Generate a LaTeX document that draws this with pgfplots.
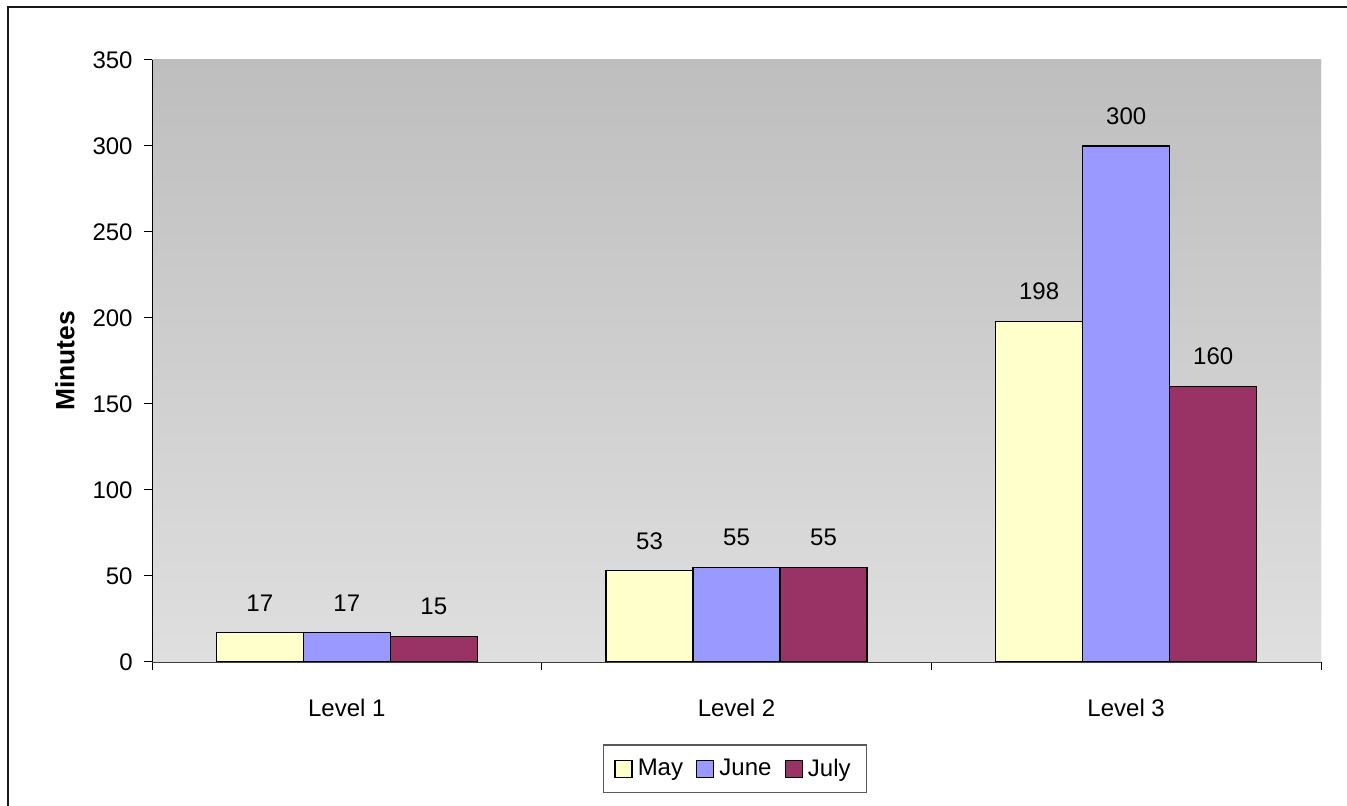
\documentclass[border=0pt]{standalone}
\usepackage{pgfplots}
\pgfplotsset{compat=1.18}
\usepackage{fontspec}
\setmainfont{Liberation Sans}

\definecolor{mayc}{HTML}{FFFFCC}
\definecolor{junec}{HTML}{9999FF}
\definecolor{julyc}{HTML}{993366}
\definecolor{bgtop}{RGB}{190,190,190}
\definecolor{bgbot}{RGB}{223,223,223}

\begin{document}
\begin{tikzpicture}[font=\fontsize{12}{14.4}\selectfont]
% page frame
\useasboundingbox (0,0) rectangle (673.5pt,403pt);
\draw[line width=1pt, black!90] (4pt,-5pt) -- (4pt,399.5pt) -- (690pt,399.5pt);

\begin{axis}[
  at={(76pt,72pt)}, anchor=south west,
  width=584.5pt, height=301pt, scale only axis,
  ybar=0pt, bar width=43.5pt,
  xmin=-0.5, xmax=2.5, ymin=0, ymax=350,
  axis x line*=bottom, axis y line*=left,
  x axis line style={black!75, -}, y axis line style={black, -},
  axis background/.style={top color=bgtop, bottom color=bgbot},
  xtick={-0.5,0.5,1.5,2.5},
  x tick label as interval,
  xticklabels={Level 1,Level 2,Level 3},
  ytick={0,50,...,350},
  tick align=outside, major tick length=4pt,
  tick style={black, line width=0.5pt},
  xticklabel style={anchor=center, inner sep=0pt, yshift=-19pt},
  yticklabel style={anchor=east, inner sep=0pt, xshift=-5.5pt},
  /pgf/number format/assume math mode=true,
  every axis y label/.style={at={(axis description cs:-0.0744,0.5)}, rotate=90, anchor=center, font=\fontsize{13.2}{15.8}\selectfont\bfseries},
  ylabel={Minutes},
  nodes near coords,
  every node near coord/.append style={anchor=south, inner sep=0pt, yshift=10.5pt},
  legend columns=3,
  legend style={at={(axis description cs:0.4987,-0.1777)}, anchor=center,
    draw=black!65, line width=0.7pt, fill=white, inner xsep=5.5pt, inner ysep=4.8pt,
    nodes={inner xsep=2.5pt},
    /tikz/every even column/.append style={column sep=4pt}},
  legend image code/.code={\draw[#1, line width=0.7pt] (0pt,-4.25pt) rectangle (8.5pt,4.25pt);},
]
\addplot[fill=mayc, draw=black, line width=0.6pt] coordinates {(0,17) (1,53) (2,198)};
\addplot[fill=junec, draw=black, line width=0.6pt] coordinates {(0,17) (1,55) (2,300)};
\addplot[fill=julyc, draw=black, line width=0.6pt] coordinates {(0,15) (1,55) (2,160)};
\legend{May,June,July}
% plot area outline on the top and right
\draw[black!25, line width=0.5pt] (rel axis cs:0,1) -- (rel axis cs:1,1) -- (rel axis cs:1,0);
\end{axis}
\end{tikzpicture}
\end{document}
